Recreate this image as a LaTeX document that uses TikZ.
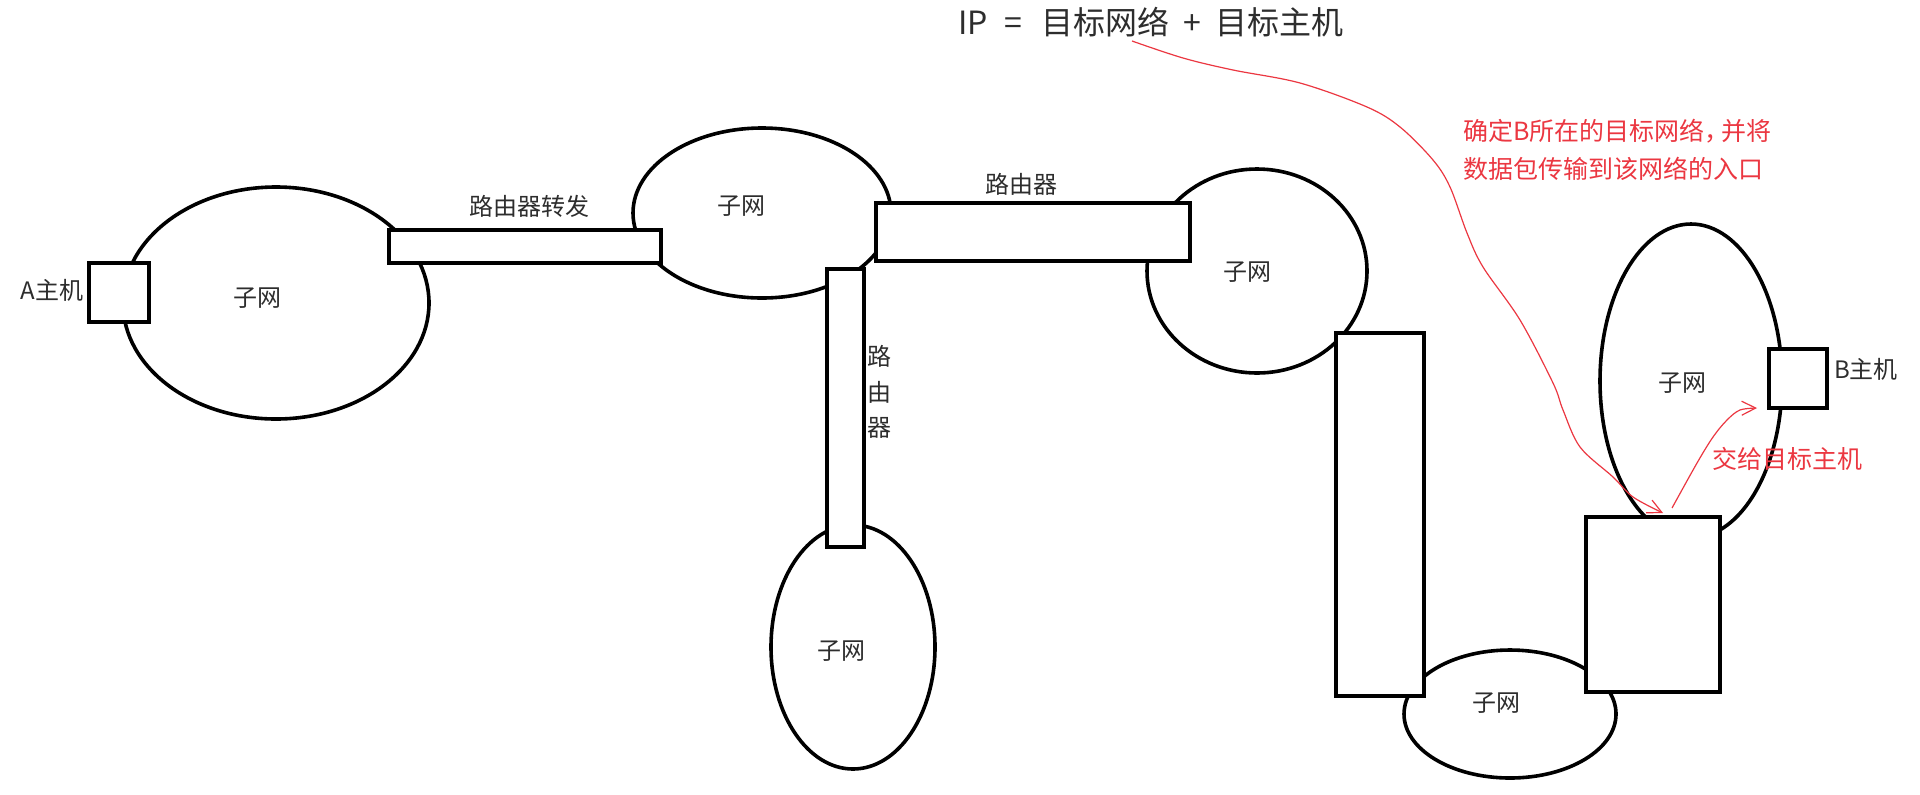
\documentclass[tikz,border=0pt]{standalone}
\usepackage{fontspec}
\setmainfont{Noto Sans CJK SC}
\usetikzlibrary{arrows.meta}
\definecolor{txtgray}{RGB}{45,45,45}
\definecolor{redc}{RGB}{235,55,65}
\begin{document}
\begin{tikzpicture}[x=0.5pt,y=-0.5pt,
  net/.style={draw=black, line width=1.8pt},
  box/.style={draw=black, line width=1.8pt, fill=white},
  lbl/.style={text=txtgray, font=\fontsize{12}{14}\selectfont, inner sep=0pt},
  rlbl/.style={text=redc, font=\fontsize{12.5}{19}\selectfont, inner sep=0pt, align=left},
  redline/.style={draw=redc, line width=0.6pt},
  redtip/.style={-{Straight Barb[length=7pt,width=7pt]}}
]
\useasboundingbox (0,0) rectangle (1920,794);
% subnets
\draw[net] (276,303) ellipse [x radius=153, y radius=116];
\draw[net] (762,213) ellipse [x radius=129, y radius=85];
\draw[net] (853,647) ellipse [x radius=82, y radius=122];
\draw[net] (1257,271) ellipse [x radius=110, y radius=102];
\draw[net] (1510,714) ellipse [x radius=106, y radius=64];
\draw[net] (1691,381) ellipse [x radius=91, y radius=157];
% routers and hosts
\path[box] (89,263) rectangle (149,322);
\path[box] (389,230) rectangle (661,263);
\path[box] (876,203) rectangle (1190,261);
\path[box] (827,269) rectangle (864,547);
\path[box] (1336,333) rectangle (1424,696);
\path[box] (1586,517) rectangle (1720,692);
\path[box] (1769,349) rectangle (1827,408);
% labels
\node[lbl] (hostA) at (52,290) {A主机};
\node[lbl] (hostB) at (1866,369) {B主机};
\node[lbl] (n1) at (257,298) {子网};
\node[lbl] (n2) at (741,206) {子网};
\node[lbl] (n3) at (841,651) {子网};
\node[lbl] (n4) at (1247,272) {子网};
\node[lbl] (n5) at (1496,703) {子网};
\node[lbl] (n6) at (1682,383) {子网};
\node[lbl] (r1) at (529,206) {路由器转发};
\node[lbl] (r2) at (1021,184) {路由器};
\node[lbl, align=center, font=\fontsize{12}{17.75}\selectfont] (r3) at (879,392) {路\\由\\器};
\node[text=txtgray, font=\fontsize{16}{19}\selectfont, inner sep=0pt] (title) at (1151,22) {IP\hspace{0.5em}=\hspace{0.6em}目标网络\hspace{0.45em}+\hspace{0.45em}目标主机};
\node[rlbl, anchor=west] (note) at (1463,150) {确定B所在的目标网络\makebox[0.65em][l]{，}并将\\数据包传输到该网络的入口};
\node[rlbl, anchor=west] (deliver) at (1712,459) {交给目标主机};
% red arrows
\coordinate (start) at (1132,41);
\coordinate (gate) at (1663,513);
\coordinate (toB) at (1757,408);
\draw[redline, redtip] plot[smooth, tension=0.55] coordinates {(start) (1183,58) (1233,70) (1300,83) (1367,107) (1400,127) (1433,160) (1450,187) (1467,233) (1483,267) (1520,320) (1553,383) (1563,410) (1580,447) (1613,477) (1633,497) (gate)};
\draw[redline, redtip] plot[smooth, tension=0.55] coordinates {(1672,508) (1697,463) (1713,437) (1727,420) (1740,410) (toB)};
\end{tikzpicture}
\end{document}
